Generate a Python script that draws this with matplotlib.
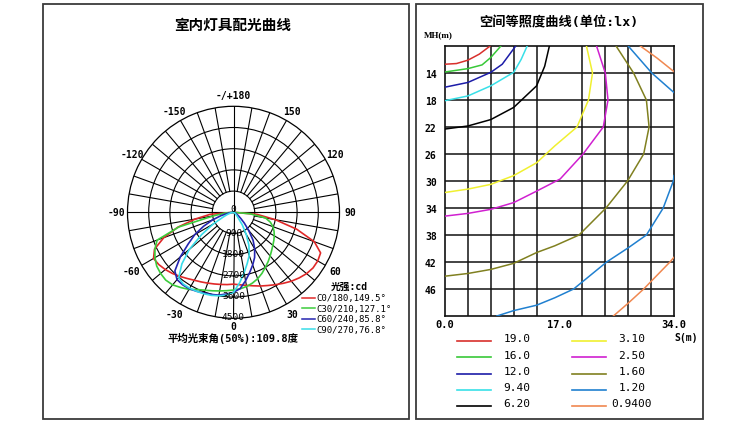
import numpy as np
import matplotlib.pyplot as plt
from matplotlib.lines import Line2D
from matplotlib.patches import Rectangle

plt.rcParams['font.family'] = ['DejaVu Sans Mono', 'Noto Sans CJK SC']

# ---- luminous intensity (cd), gamma angle -90..90 step 5
angles = list(range(-90, 95, 5))
c0_180 = [0, 1000, 1650, 2450, 3150, 3700, 3920, 3870, 3780, 3670, 3550, 3430, 3330, 3260,
          3200, 3150, 3110, 3080, 3050,
          3090, 3150, 3230, 3330, 3430, 3550, 3680, 3820, 3940, 4050, 4120, 4130, 4080,
          3650, 2780, 1800, 1000, 0]
c30_210 = [0, 350, 850, 2400, 3450, 3680, 3850, 3980, 4040, 4070, 4020, 3900, 3780, 3620,
           3520, 3450, 3390, 3340, 3300,
           3260, 3200, 3110, 3000, 2860, 2700, 2560, 2420, 2290, 2180, 2090, 2000, 1900,
           1780, 1620, 1380, 700, 0]
c60_240 = [0, 100, 250, 550, 950, 1400, 1900, 2350, 2950, 3520, 3730, 3760, 3750, 3700,
           3650, 3610, 3570, 3480, 3400,
           3250, 2950, 2650, 2380, 2120, 1800, 1450, 1000, 650, 400, 250, 150, 110,
           80, 50, 30, 10, 0]
c90_270 = [0, 30, 80, 150, 300, 500, 1000, 1650, 2450, 3100, 3620, 3720, 3720, 3700,
           3680, 3650, 3600, 3530, 3400,
           3000, 2600, 2250, 1950, 1550, 1080, 650, 300, 200, 120, 80, 60, 40,
           30, 20, 10, 5, 0]
polar_names = ['C0/180,149.5°', 'C30/210,127.1°', 'C60/240,85.8°', 'C90/270,76.8°']
polar_colors = ['#e02828', '#3ccc3c', '#2424b0', '#38dce8']
ring_vals = [900, 1800, 2700, 3600, 4500]
angle_labels = [(180, '-/+180'), (150, '150'), (120, '120'), (90, '90'), (60, '60'),
                (30, '30'), (0, '0'), (-30, '-30'), (-60, '-60'), (-90, '-90'),
                (-120, '-120'), (-150, '-150')]

# ---- isolux curves: S (m), MH (m)
iso_labels = ['19.0', '16.0', '12.0', '9.40', '6.20', '3.10', '2.50', '1.60', '1.20', '0.9400']
iso_colors = ['#d8302c', '#38c838', '#1c1ca8', '#38e0e8', '#000000',
              '#f0f030', '#d020d0', '#808020', '#2080d0', '#f08850']
s_190 = [0, 1.7, 3.4, 5.1, 6.7]
mh_190 = [12.7, 12.6, 12.1, 11.2, 10]
s_160 = [0, 3.4, 5.5, 6.8, 8.3]
mh_160 = [13.85, 13.35, 12.8, 11.7, 10]
s_120 = [0, 3.4, 6.8, 8.5, 10.5]
mh_120 = [16.1, 15.4, 13.9, 12.7, 10]
s_94 = [0, 3.4, 6.8, 10.2, 11.3, 12.2]
mh_94 = [18.1, 17.4, 15.9, 13.9, 12.0, 10]
s_62 = [0, 3.4, 6.8, 10.2, 13.6, 14.8, 15.5]
mh_62 = [22.3, 21.85, 20.9, 19.1, 15.9, 13.0, 10]
s_31 = [0, 3.4, 6.8, 10.2, 13.6, 16.3, 19.6, 21.3, 21.9, 21.0]
mh_31 = [31.7, 31.2, 30.5, 29.2, 27.3, 24.8, 22.0, 18.0, 14.0, 10]
s_25 = [0, 3.4, 6.8, 10.2, 13.6, 17.1, 20.5, 23.5, 24.2, 23.8, 22.5]
mh_25 = [35.2, 34.8, 34.2, 33.2, 31.5, 29.7, 26.0, 22.0, 18.0, 14.0, 10]
s_16 = [0, 3.4, 6.8, 10.2, 13.6, 16.3, 19.9, 23.9, 27.1, 29.5, 30.3, 29.9, 28.0, 25.4]
mh_16 = [44.1, 43.7, 43.1, 42.2, 40.6, 39.6, 38.0, 34.0, 30.0, 26.0, 22.0, 18.0, 14.0, 10]
s_12a = [27.2, 30.7, 34.0]
mh_12a = [10, 14.0, 16.9]
s_12b = [7.7, 10.2, 13.6, 16.3, 19.1, 24.0, 27.2, 29.9, 32.4, 33.9, 34.0]
mh_12b = [50, 49.2, 48.4, 47.3, 46.0, 42.0, 39.9, 38.0, 34.0, 30.0, 29.2]
s_094a = [29.0, 31.5, 34.0]
mh_094a = [10, 11.8, 13.8]
s_094b = [25.0, 27.2, 29.5, 33.4, 34.0]
mh_094b = [50, 48.1, 46.0, 42.0, 41.3]

W, H = 750, 435
fig = plt.figure(figsize=(W / 100, H / 100), dpi=100)


def fx(px):
    return px / W


def fy(py):
    return 1 - py / H


# panel frames
for x0, x1 in [(43, 409), (416, 703)]:
    fig.add_artist(Rectangle((fx(x0), fy(420)), (x1 - x0) / W, 415 / H,
                             transform=fig.transFigure, fill=False,
                             ec='#3a3a3a', lw=1.3))

# ================= left: polar distribution
cx, cy, R = 233.5, 213.3, 106
ax = fig.add_axes([fx(cx - R), fy(cy + R), 2 * R / W, 2 * R / H], projection='polar')
ax.set_theta_zero_location('S')
ax.set_theta_direction(1)
ax.set_ylim(0, 4500)
ax.set_xticks([])
ax.set_yticks(ring_vals[:-1])
ax.set_yticklabels([])
ax.grid(False)
ax.yaxis.grid(True, color='black', lw=0.8)
ax.spines['polar'].set_linewidth(0.9)
ax.spines['polar'].set_color('black')
for a in range(0, 360, 10):
    r0 = 0 if a % 90 == 0 else ring_vals[0]
    ax.plot([np.deg2rad(a)] * 2, [r0, 4500], color='black', lw=0.8, zorder=1)

th = np.deg2rad(angles)
for vals, c in zip([c0_180, c30_210, c60_240, c90_270], polar_colors):
    ax.plot(th, vals, color=c, lw=1.2, zorder=3)

for a, lab in angle_labels:
    rr = 4830 if a == 0 else 4980
    ax.text(np.deg2rad(a), rr, lab, ha='center', va='center', fontsize=7,
            weight='bold', clip_on=False)
for r in ring_vals:
    ax.text(0, r - 60, str(r), ha='center', va='center', fontsize=6.8, zorder=4)
ax.annotate('0', xy=(0, 0), xytext=(0, 2.5), textcoords='offset points',
            ha='center', va='center', fontsize=6.8, zorder=4)

fig.text(fx(233), fy(25), '室内灯具配光曲线', ha='center', va='center',
         fontsize=10.5, weight='bold', family='Noto Sans CJK SC')
fig.text(fx(349), fy(287), '光强:cd', ha='center', va='center', fontsize=7,
         weight='bold')
for i, (lab, c) in enumerate(zip(polar_names, polar_colors)):
    yy = fy(299 + i * 10.4)
    fig.add_artist(Line2D([fx(302), fx(315)], [yy, yy], color=c, lw=1.1))
    fig.text(fx(316.5), yy, lab, ha='left', va='center', fontsize=6.5)
fig.text(fx(233), fy(338.5), '平均光束角(50%):109.8度', ha='center', va='center',
         fontsize=7.5, weight='bold')

# ================= right: isolux curves
ax2 = fig.add_axes([fx(445), fy(317), 229 / W, 270 / H])
ax2.set_xlim(0, 34)
ax2.set_ylim(50, 10)
ax2.set_xticks([0, 17, 34])
ax2.set_xticklabels(['0.0', '17.0', '34.0'], fontsize=7.5, weight='bold')
ax2.set_xticks(np.arange(0, 34.01, 3.4), minor=True)
ax2.set_yticks(np.arange(14, 47, 4))
ax2.set_yticklabels([str(v) for v in range(14, 47, 4)], fontsize=7, weight='bold')
ax2.tick_params(which='both', length=0)
ax2.tick_params(axis='x', pad=2)
ax2.tick_params(axis='y', pad=6)
ax2.grid(which='minor', axis='x', color='#111111', lw=1.1)
ax2.grid(which='major', axis='y', color='#111111', lw=1.1)
for sp in ax2.spines.values():
    sp.set_linewidth(1.2)
    sp.set_color('#111111')

curves = [(s_190, mh_190, 0), (s_160, mh_160, 1), (s_120, mh_120, 2), (s_94, mh_94, 3),
          (s_62, mh_62, 4), (s_31, mh_31, 5), (s_25, mh_25, 6), (s_16, mh_16, 7),
          (s_12a, mh_12a, 8), (s_12b, mh_12b, 8), (s_094a, mh_094a, 9),
          (s_094b, mh_094b, 9)]
for xs, ys, k in curves:
    ax2.plot(xs, ys, color=iso_colors[k], lw=1.1, zorder=3)

fig.text(fx(438), fy(35), 'MH(m)', ha='center', va='center', fontsize=6.5,
         weight='bold', family='Liberation Serif')
fig.text(fx(686), fy(338), 'S(m)', ha='center', va='center', fontsize=7,
         weight='bold')
fig.text(fx(559), fy(23), '空间等照度曲线(单位:lx)', ha='center', va='center',
         fontsize=9.5, weight='bold')

row_y = [341.5, 358, 374.5, 390.5, 406.5]
for k, (lab, c) in enumerate(zip(iso_labels, iso_colors)):
    col, row = divmod(k, 5)
    x0 = 457 + col * 115
    yy = fy(row_y[row])
    fig.add_artist(Line2D([fx(x0), fx(x0 + 34)], [yy, yy], color=c, lw=1.2))
    fig.text(fx(x0 + 60), fy(row_y[row] - 2), lab, ha='center', va='center',
             fontsize=8)

fig.savefig('out.png', dpi=100)
